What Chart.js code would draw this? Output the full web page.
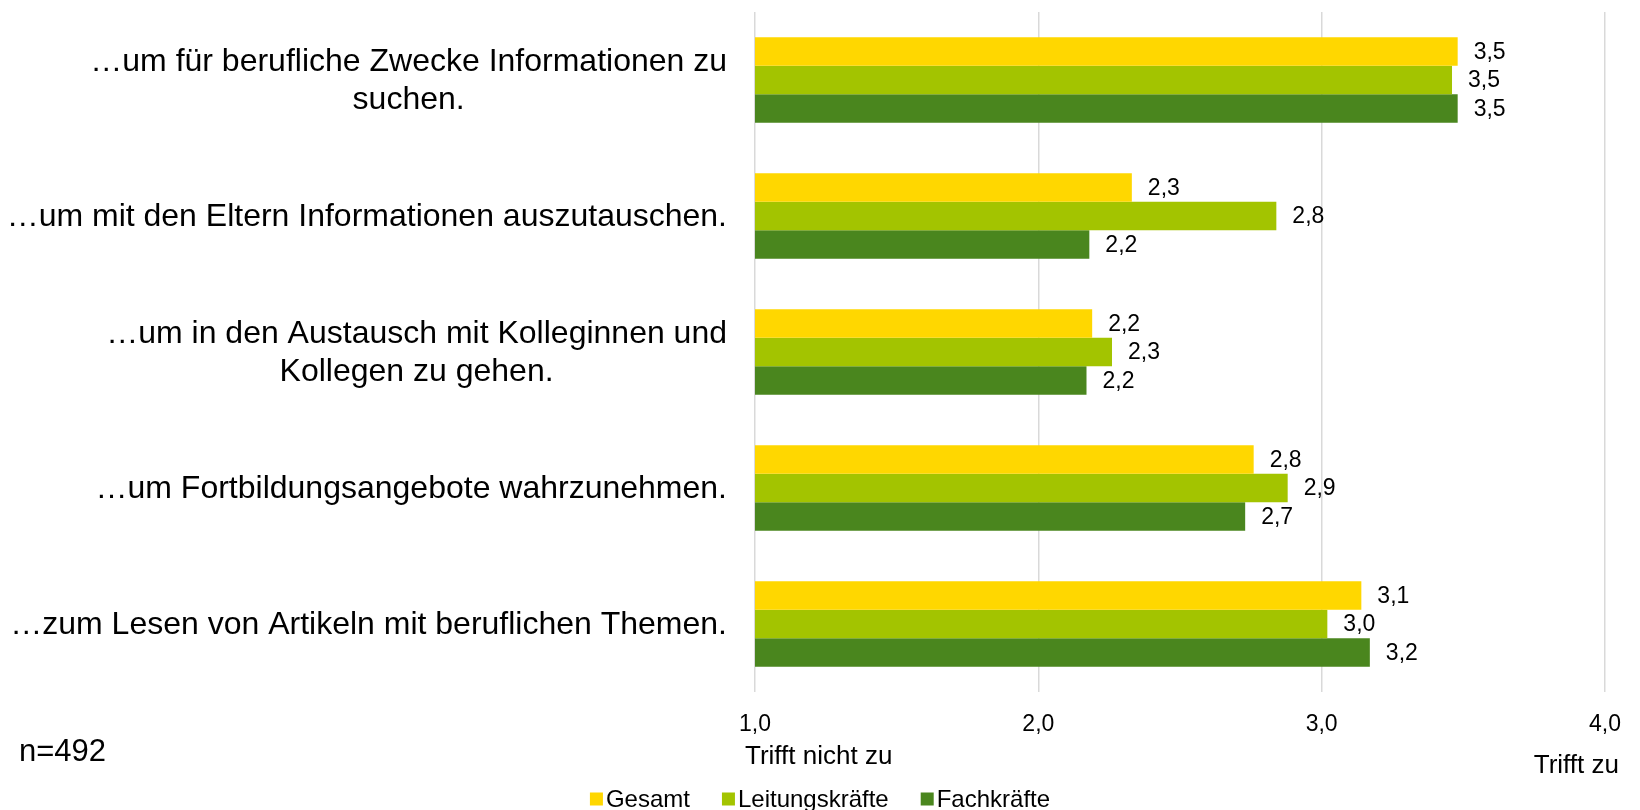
<!DOCTYPE html>
<html>
<head>
    <title>Nutzung digitaler Medien</title>
    <script src="https://cdn.jsdelivr.net/npm/chart.js"></script>
    <style>
        body { margin: 0; background: #fff; }
        #wrap { width: 1640px; height: 810px; }
    </style>
</head>
<body>
    <div id="wrap"><canvas id="barChart" width="1640" height="810"></canvas></div>

    <script>
        // categories (multi-line labels, lines get centered in their block)
        const categories = [
            ['…um für berufliche Zwecke Informationen zu', 'suchen.'],
            ['…um mit den Eltern Informationen auszutauschen.'],
            ['…um in den Austausch mit Kolleginnen und', 'Kollegen zu gehen.'],
            ['…um Fortbildungsangebote wahrzunehmen.'],
            ['…zum Lesen von Artikeln mit beruflichen Themen.']
        ];

        const gesamt = [3.48, 2.33, 2.19, 2.76, 3.14];
        const leitungskraefte = [3.46, 2.84, 2.26, 2.88, 3.02];
        const fachkraefte = [3.48, 2.18, 2.17, 2.73, 3.17];

        const seriesNames = ['Gesamt', 'Leitungskräfte', 'Fachkräfte'];
        const seriesColors = ['#FFD700', '#A3C400', '#4A861E'];

        const xTicks = [1, 2, 3, 4];
        const sampleNote = 'n=492';
        const axisLow = 'Trifft nicht zu';
        const axisHigh = 'Trifft zu';

        const FONT = '"Liberation Sans", Arial, sans-serif';

        function fmt(v) {
            return v.toFixed(1).replace('.', ',');
        }

        // category labels on the left, right aligned block with centered lines
        const categoryLabels = {
            id: 'categoryLabels',
            afterDraw(chart) {
                const c = chart.ctx;
                const yScale = chart.scales.y;
                const right = chart.chartArea.left - 28;
                const lineH = 38;
                c.save();
                c.font = '32px ' + FONT;
                c.fillStyle = '#000';
                c.textAlign = 'center';
                c.textBaseline = 'middle';
                categories.forEach((lines, i) => {
                    const yc = yScale.getPixelForValue(i) + 1;
                    const w = Math.max(...lines.map(l => c.measureText(l).width));
                    const cx = right - w / 2;
                    const y0 = yc - (lines.length - 1) * lineH / 2;
                    lines.forEach((l, k) => c.fillText(l, cx, y0 + k * lineH));
                });
                c.restore();
            }
        };

        // value labels next to bar ends
        const valueLabels = {
            id: 'valueLabels',
            afterDatasetsDraw(chart) {
                const c = chart.ctx;
                c.save();
                c.font = '23px ' + FONT;
                c.fillStyle = '#000';
                c.textAlign = 'left';
                c.textBaseline = 'middle';
                chart.data.datasets.forEach((ds, di) => {
                    chart.getDatasetMeta(di).data.forEach((bar, i) => {
                        c.fillText(fmt(ds.data[i]), bar.x + 16, bar.y + 1);
                    });
                });
                c.restore();
            }
        };

        // axis end texts, sample size and legend at the bottom
        const extras = {
            id: 'extras',
            afterDraw(chart) {
                const c = chart.ctx;
                const xScale = chart.scales.x;
                c.save();
                c.fillStyle = '#000';
                c.textBaseline = 'middle';

                c.font = '26px ' + FONT;
                c.textAlign = 'left';
                c.fillText(axisLow, xScale.getPixelForValue(1) - 10, 757);
                c.textAlign = 'right';
                c.fillText(axisHigh, 1619, 766);

                c.font = '31px ' + FONT;
                c.textAlign = 'left';
                c.fillText(sampleNote, 19, 752);

                // legend
                c.font = '24px ' + FONT;
                const box = 13, gap = 3, spacing = 32;
                const widths = seriesNames.map(n => box + gap + c.measureText(n).width);
                const total = widths.reduce((a, b) => a + b, 0) + spacing * (widths.length - 1);
                let x = 820 - total / 2;
                const y = 799;
                seriesNames.forEach((n, i) => {
                    c.fillStyle = seriesColors[i];
                    c.fillRect(x, y - box / 2, box, box);
                    c.fillStyle = '#000';
                    c.textAlign = 'left';
                    c.fillText(n, x + box + gap, y + 1);
                    x += widths[i] + spacing;
                });
                c.restore();
            }
        };

        const ctx = document.getElementById('barChart').getContext('2d');

        new Chart(ctx, {
            type: 'bar',
            data: {
                labels: categories.map(l => l.join(' ')),
                datasets: [gesamt, leitungskraefte, fachkraefte].map((d, i) => ({
                    label: seriesNames[i],
                    data: d,
                    backgroundColor: seriesColors[i],
                    borderWidth: 0,
                    categoryPercentage: 0.63,
                    barPercentage: 1.0
                }))
            },
            options: {
                indexAxis: 'y',
                responsive: false,
                animation: false,
                layout: {
                    padding: { left: 755, right: 31, top: 12, bottom: 0 }
                },
                plugins: {
                    legend: { display: false },
                    tooltip: { enabled: false },
                    title: { display: false }
                },
                scales: {
                    x: {
                        type: 'linear',
                        min: 1,
                        max: 4,
                        afterBuildTicks: (scale) => {
                            scale.ticks = xTicks.map(v => ({ value: v }));
                        },
                        afterFit: (scale) => {
                            scale.height = 118;
                        },
                        grid: {
                            color: '#d9d9d9',
                            lineWidth: 1.5,
                            drawTicks: false
                        },
                        border: { display: false },
                        ticks: {
                            padding: 19,
                            color: '#000',
                            font: { family: FONT, size: 23 },
                            callback: (v) => fmt(v)
                        }
                    },
                    y: {
                        grid: { display: false },
                        border: { display: false },
                        ticks: { display: false },
                        afterFit: (scale) => {
                            scale.width = 0;
                        }
                    }
                }
            },
            plugins: [categoryLabels, valueLabels, extras]
        });
    </script>
</body>
</html>
